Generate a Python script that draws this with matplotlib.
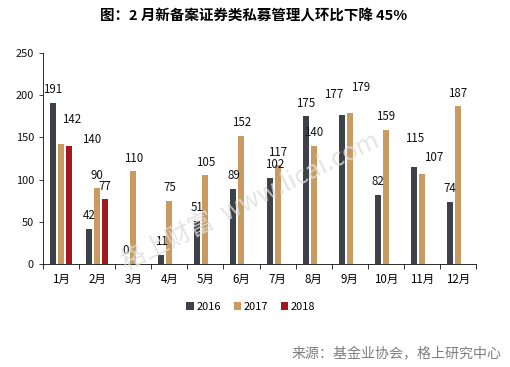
import matplotlib.pyplot as plt
import numpy as np

plt.rcParams['font.family'] = ['Noto Sans CJK SC', 'DejaVu Sans']

months = ['1月', '2月', '3月', '4月', '5月', '6月', '7月', '8月', '9月', '10月', '11月', '12月']
v2016 = [191, 42, 0, 11, 51, 89, 102, 175, 177, 82, 115, 74]
v2017 = [142, 90, 110, 75, 105, 152, 117, 140, 179, 159, 107, 187]
v2018 = [140, 77]

series = [('2016', v2016, '#3f4148'), ('2017', v2017, '#c99b60'), ('2018', v2018, '#a3171f')]

# hand nudges for labels that Excel moved (pixels)
nudge = {('2017', 0): (11, 12), ('2018', 0): (23, -7), ('2016', 6): (5, 0),
         ('2016', 8): (-8, 7), ('2017', 8): (11, 12),
         ('2016', 10): (1, 15), ('2017', 10): (12, 3)}

fig = plt.figure(figsize=(510/72, 367/72), dpi=72)
ax = fig.add_axes([43/510, 1-264/367, 433/510, 211/367])

x = np.arange(len(months))
step = 0.222
w = 0.167
for k, (name, vals, col) in enumerate(series):
    xs = x[:len(vals)] + (k-1)*step
    ax.bar(xs, vals, width=w, color=col, label=name)
    for i, (xi, v) in enumerate(zip(xs, vals)):
        dx, dy = nudge.get((name, i), (0, 0))
        ax.annotate(str(v), (xi, v), xytext=(dx, 13+dy), textcoords='offset points',
                    ha='center', va='center', fontsize=11.5, color='#111111')

ax.set_xlim(-0.5, 11.5)
ax.set_ylim(0, 250)
ax.set_yticks(range(0, 251, 50))
ax.tick_params(axis='y', labelsize=11, length=4, pad=5, colors='#111111')
ax.set_xticks(np.arange(-0.5, 12, 1))
ax.set_xticklabels([])
ax.tick_params(axis='x', which='major', length=5, direction='out')
ax.set_xticks(x, minor=True)
ax.set_xticklabels(months, minor=True, fontsize=11.5)
ax.tick_params(axis='x', which='minor', length=0, pad=9)
for s in ['top', 'right']:
    ax.spines[s].set_visible(False)

fig.text(254/510, 1-16/367, '图：2 月新备案证券类私募管理人环比下降 45%', ha='center', va='center',
         fontsize=14.5, fontweight='bold')
fig.text(502/510, 1-354/367, '来源：基金业协会，格上研究中心', ha='right', va='center',
         fontsize=14, color='#7f7f7f')
fig.text(250/510, 1-202/367, '格上财富  www.licai.com', ha='center', va='center', rotation=26,
         fontsize=25, color='#dedede', alpha=0.8, zorder=0)

fig.legend(loc='center', bbox_to_anchor=(251/510, 1-307/367), ncol=3, frameon=False,
           fontsize=11, handlelength=0.65, handleheight=0.65, handletextpad=0.3,
           columnspacing=1.1)

fig.savefig('out.png', dpi=72)
